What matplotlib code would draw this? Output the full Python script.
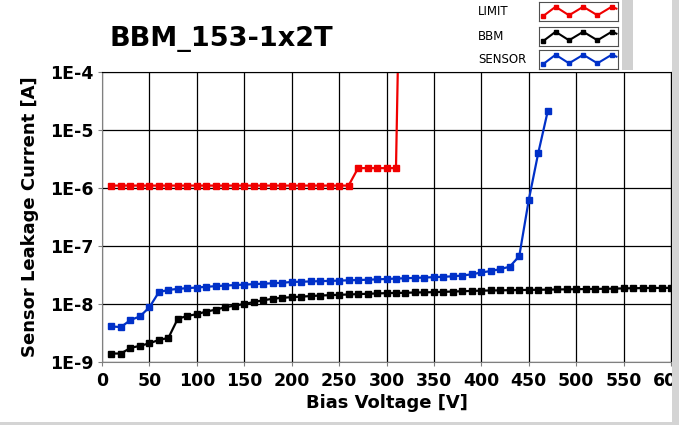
import matplotlib
matplotlib.use("Agg")
import matplotlib.pyplot as plt
from matplotlib.patches import Rectangle
from matplotlib.ticker import FixedLocator, FuncFormatter

# ---------------------------------------------------------------- data
limit_v = [10, 20, 30, 40, 50, 60, 70, 80, 90, 100, 110, 120, 130, 140, 150, 160, 170, 180, 190, 200,
           210, 220, 230, 240, 250, 260, 270, 280, 290, 300, 310, 313]
limit_i = [1.1e-6] * 26 + [2.2e-6] * 5 + [1e-3]

bbm_v = list(range(10, 610, 10))
bbm_i = [1.4e-9, 1.4e-9, 1.75e-9, 1.9e-9, 2.1e-9, 2.4e-9, 2.6e-9, 5.6e-9, 6.2e-9, 6.7e-9,
         7.4e-9, 8.0e-9, 8.8e-9, 9.4e-9, 1.0e-8, 1.08e-8, 1.16e-8, 1.23e-8, 1.28e-8, 1.31e-8,
         1.34e-8, 1.37e-8, 1.40e-8, 1.42e-8, 1.44e-8, 1.46e-8, 1.48e-8, 1.50e-8, 1.52e-8, 1.54e-8,
         1.55e-8, 1.56e-8, 1.58e-8, 1.59e-8, 1.60e-8, 1.62e-8, 1.64e-8, 1.66e-8, 1.68e-8, 1.70e-8,
         1.71e-8, 1.72e-8, 1.73e-8, 1.74e-8, 1.75e-8, 1.76e-8, 1.77e-8, 1.78e-8, 1.79e-8, 1.80e-8,
         1.81e-8, 1.82e-8, 1.83e-8, 1.84e-8, 1.86e-8, 1.87e-8, 1.88e-8, 1.89e-8, 1.89e-8, 1.90e-8]

sensor_v = list(range(10, 480, 10))
sensor_i = [4.1e-9, 4.0e-9, 5.3e-9, 6.1e-9, 8.8e-9, 1.6e-8, 1.75e-8, 1.82e-8, 1.88e-8, 1.92e-8,
            1.98e-8, 2.03e-8, 2.08e-8, 2.12e-8, 2.16e-8, 2.2e-8, 2.24e-8, 2.28e-8, 2.32e-8, 2.4e-8,
            2.42e-8, 2.45e-8, 2.48e-8, 2.5e-8, 2.53e-8, 2.56e-8, 2.59e-8, 2.62e-8, 2.66e-8, 2.7e-8,
            2.74e-8, 2.78e-8, 2.82e-8, 2.86e-8, 2.9e-8, 2.95e-8, 3.0e-8, 3.1e-8, 3.25e-8, 3.5e-8,
            3.7e-8, 4.0e-8, 4.4e-8, 6.7e-8, 6.2e-7, 4.0e-6, 2.1e-5]

x_ticks = [0, 50, 100, 150, 200, 250, 300, 350, 400, 450, 500, 550, 600]
y_ticks = [1e-9, 1e-8, 1e-7, 1e-6, 1e-5, 1e-4]
y_tick_labels = ["1E-9", "1E-8", "1E-7", "1E-6", "1E-5", "1E-4"]

title = "BBM_153-1x2T"
series = [("LIMIT", limit_v, limit_i, "#f00000"),
          ("BBM", bbm_v, bbm_i, "#000000"),
          ("SENSOR", sensor_v, sensor_i, "#0030c8")]

# zigzag used as the legend sample (shape only)
zig_x = [0.05, 0.21, 0.38, 0.56, 0.74, 0.92, 0.98]
zig_y = [0.25, 0.75, 0.3, 0.75, 0.3, 0.75, 0.65]

W, H = 679, 425
plt.rcParams["font.family"] = "DejaVu Sans"

fig = plt.figure(figsize=(W / 100, H / 100), dpi=100)
ax = fig.add_axes([102 / W, 1 - 362 / H, 569 / W, 290 / H])

for name, v, i, c in series:
    ax.plot(v, i, color=c, lw=1.6, marker="s", markersize=4.2, label=name)

ax.set_yscale("log")
ax.set_xlim(0, 600)
ax.set_ylim(1e-9, 1e-4)
ax.xaxis.set_major_locator(FixedLocator(x_ticks))
ax.yaxis.set_major_locator(FixedLocator(y_ticks))
ax.yaxis.set_minor_locator(FixedLocator([]))
ax.yaxis.set_major_formatter(FuncFormatter(
    lambda val, pos: y_tick_labels[y_ticks.index(min(y_ticks, key=lambda t: abs(t - val)))]))
ax.grid(True, color="black", lw=0.9)
ax.set_axisbelow(True)

for s in ["left", "bottom"]:
    ax.spines[s].set_color("#808080")
for s in ["top", "right"]:
    ax.spines[s].set_color("black")
ax.tick_params(axis="both", which="major", length=3, color="#808080", labelsize=12.5, pad=3)
ax.tick_params(axis="x", pad=4)
for lbl in ax.get_xticklabels() + ax.get_yticklabels():
    lbl.set_fontweight("bold")

ax.set_xlabel("Bias Voltage [V]", fontsize=13, fontweight="bold", labelpad=3)
ax.set_ylabel("Sensor Leakage Current [A]", fontsize=13, fontweight="bold")
ax.yaxis.set_label_coords(-0.111, 0.5)

fig.text(110 / W, 1 - 45.5 / H, title, fontsize=19.5, fontweight="bold", va="baseline")

# grey bars: legend panel shade, right edge, bottom edge
fig.patches.append(Rectangle((622 / W, 1 - 70 / H), 11 / W, 70 / H, transform=fig.transFigure,
                             facecolor="#d0d0d0", edgecolor="none"))
fig.patches.append(Rectangle((672 / W, 0), 7 / W, 1, transform=fig.transFigure,
                             facecolor="#d4d4d4", edgecolor="none", zorder=5))
fig.patches.append(Rectangle((0, 0), 1, 3 / H, transform=fig.transFigure,
                             facecolor="#d4d4d4", edgecolor="none", zorder=5))

# legend: label + framed zigzag sample for each series
box_tops = [2, 27, 50]
for (name, v, i, c), top in zip(series, box_tops):
    lax = fig.add_axes([539 / W, 1 - (top + 19) / H, 79 / W, 19 / H])
    lax.plot(zig_x, zig_y, color=c, lw=1.5)
    lax.plot(zig_x[:-1], zig_y[:-1], color=c, ls="none", marker="s", markersize=3.3)
    lax.set_xlim(0, 1)
    lax.set_ylim(0, 1)
    lax.set_xticks([])
    lax.set_yticks([])
    for sp in lax.spines.values():
        sp.set_color("#505050")
        sp.set_linewidth(0.8)
    fig.text(478 / W, 1 - (top + 9.5) / H, name, fontsize=8.5, va="center", ha="left")

fig.savefig("out.png", dpi=100)
